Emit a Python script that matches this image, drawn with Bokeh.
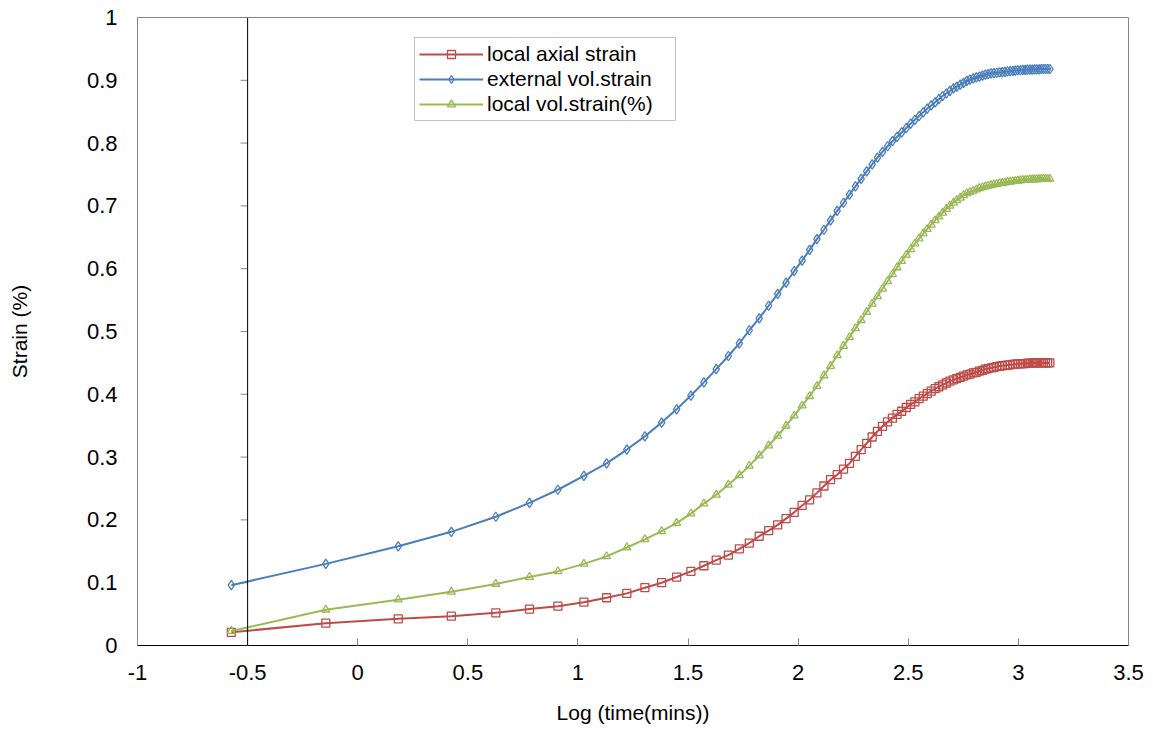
from bokeh.plotting import figure
from bokeh.models import Span, Legend, LegendItem, FixedTicker, ColumnDataSource
from bokeh.embed import file_html
from bokeh.resources import INLINE

# ---- data ----
log_time = [-0.574, -0.145, 0.184, 0.425, 0.627, 0.780, 0.909, 1.027, 1.130, 1.222,
            1.304, 1.380, 1.448, 1.513, 1.572, 1.628, 1.683, 1.733, 1.778, 1.823,
            1.866, 1.907, 1.945, 1.982, 2.018, 2.052, 2.085, 2.117, 2.147, 2.177,
            2.206, 2.233, 2.260, 2.286, 2.311, 2.336, 2.360, 2.383, 2.406, 2.428,
            2.449, 2.470, 2.491, 2.511, 2.530, 2.549, 2.568, 2.586, 2.604, 2.622,
            2.639, 2.656, 2.673, 2.689, 2.705, 2.720, 2.736, 2.751, 2.766, 2.780,
            2.795, 2.809, 2.823, 2.837, 2.850, 2.863, 2.876, 2.889, 2.902, 2.915,
            2.927, 2.939, 2.951, 2.963, 2.975, 2.986, 2.997, 3.009, 3.020, 3.031,
            3.041, 3.052, 3.063, 3.073, 3.083, 3.094, 3.104, 3.114, 3.123, 3.133,
            3.143]

local_axial_strain = [0.021, 0.0355, 0.0425, 0.0467, 0.052, 0.058, 0.0626, 0.069, 0.076, 0.083,
                      0.092, 0.100, 0.109, 0.118, 0.127, 0.136, 0.144, 0.154, 0.163, 0.174,
                      0.183, 0.192, 0.202, 0.212, 0.223, 0.232, 0.243, 0.254, 0.264, 0.272,
                      0.281, 0.290, 0.301, 0.312, 0.322, 0.332, 0.341, 0.349, 0.356, 0.362,
                      0.368, 0.373, 0.379, 0.384, 0.388, 0.393, 0.397, 0.401, 0.405, 0.409,
                      0.412, 0.415, 0.418, 0.421, 0.423, 0.425, 0.427, 0.429, 0.431, 0.432,
                      0.434, 0.435, 0.437, 0.438, 0.440, 0.441, 0.442, 0.443, 0.444, 0.445,
                      0.4455, 0.446, 0.4465, 0.447, 0.4475, 0.448, 0.4485, 0.4485, 0.449, 0.449,
                      0.4495, 0.4495, 0.4495, 0.450, 0.450, 0.450, 0.450, 0.450, 0.450, 0.450,
                      0.450]

external_vol_strain = [0.096, 0.130, 0.158, 0.181, 0.205, 0.227, 0.248, 0.270, 0.290, 0.312,
                       0.333, 0.355, 0.376, 0.398, 0.419, 0.440, 0.461, 0.481, 0.502, 0.521,
                       0.541, 0.560, 0.578, 0.596, 0.613, 0.630, 0.647, 0.662, 0.677, 0.692,
                       0.705, 0.718, 0.731, 0.743, 0.755, 0.766, 0.777, 0.786, 0.795, 0.803,
                       0.810, 0.817, 0.824, 0.831, 0.837, 0.843, 0.849, 0.855, 0.860, 0.865,
                       0.870, 0.875, 0.879, 0.883, 0.887, 0.890, 0.893, 0.896, 0.899, 0.901,
                       0.903, 0.9045, 0.906, 0.9075, 0.909, 0.910, 0.911, 0.9115, 0.912, 0.9125,
                       0.913, 0.9135, 0.914, 0.9145, 0.915, 0.9155, 0.916, 0.916, 0.9165, 0.9165,
                       0.917, 0.917, 0.917, 0.9175, 0.9175, 0.9175, 0.918, 0.918, 0.918, 0.918,
                       0.918]

local_vol_strain = [0.023, 0.057, 0.073, 0.0855, 0.098, 0.109, 0.118, 0.130, 0.142, 0.156,
                    0.169, 0.182, 0.195, 0.210, 0.226, 0.240, 0.256, 0.271, 0.286, 0.3025,
                    0.3185, 0.334, 0.350, 0.366, 0.382, 0.397, 0.413, 0.430, 0.445, 0.462,
                    0.477, 0.491, 0.505, 0.518, 0.531, 0.544, 0.556, 0.568, 0.580, 0.591,
                    0.602, 0.612, 0.622, 0.631, 0.640, 0.648, 0.656, 0.663, 0.670, 0.677,
                    0.683, 0.689, 0.695, 0.700, 0.705, 0.709, 0.713, 0.717, 0.720, 0.722,
                    0.724, 0.726, 0.728, 0.7295, 0.731, 0.732, 0.733, 0.734, 0.735, 0.736,
                    0.7365, 0.737, 0.738, 0.7385, 0.739, 0.7395, 0.740, 0.7405, 0.741, 0.741,
                    0.7415, 0.742, 0.742, 0.742, 0.7425, 0.7425, 0.743, 0.743, 0.743, 0.743,
                    0.743]

series_names = ["local axial strain", "external vol.strain", "local vol.strain(%)"]

x_ticks = [-1, -0.5, 0, 0.5, 1, 1.5, 2, 2.5, 3, 3.5]
x_tick_labels = ["-1", "-0.5", "0", "0.5", "1", "1.5", "2", "2.5", "3", "3.5"]
y_ticks = [0, 0.1, 0.2, 0.3, 0.4, 0.5, 0.6, 0.7, 0.8, 0.9, 1]
y_tick_labels = ["0", "0.1", "0.2", "0.3", "0.4", "0.5", "0.6", "0.7", "0.8", "0.9", "1"]
y_axis_crosses_at = -0.5

# ---- styling ----
FONT = "Liberation Sans"
GRAY = "#868686"
RED = "#BE4B48"
BLUE = "#4A7EBB"
GREEN = "#98B954"

X_MIN, X_MAX = -1, 3.5
Y_MIN, Y_MAX = 0, 1
FRAME_W = 991
TICK_PX = 7

p = figure(width=1145, height=730, x_range=(X_MIN, X_MAX), y_range=(Y_MIN, Y_MAX),
           output_backend="svg", toolbar_location=None,
           min_border_left=137, min_border_right=17, min_border_top=17, min_border_bottom=85)
p.background_fill_color = "white"
p.border_fill_color = "white"
p.outline_line_color = GRAY
p.outline_line_width = 1
p.xgrid.visible = False
p.ygrid.visible = False

# x axis
xa = p.xaxis[0]
xa.ticker = FixedTicker(ticks=x_ticks)
xa.major_label_overrides = dict(zip(x_ticks, x_tick_labels))
xa.axis_line_color = "black"
xa.axis_line_width = 1
xa.major_tick_in = TICK_PX
xa.major_tick_out = 0
xa.major_tick_line_color = GRAY
xa.minor_tick_line_color = None
xa.major_label_standoff = 19
xa.major_label_text_font = FONT
xa.major_label_text_font_size = "22px"
xa.major_label_text_color = "black"
xa.axis_label = "Log (time(mins))"
xa.axis_label_text_font = FONT
xa.axis_label_text_font_size = "21px"
xa.axis_label_text_font_style = "normal"
xa.axis_label_text_color = "black"
xa.axis_label_standoff = 18

# y axis (labels at left edge of frame)
ya = p.yaxis[0]
ya.ticker = FixedTicker(ticks=y_ticks)
ya.major_label_overrides = dict(zip(y_ticks, y_tick_labels))
ya.axis_line_color = None
ya.major_tick_line_color = None
ya.minor_tick_line_color = None
ya.major_tick_in = 0
ya.major_tick_out = 0
ya.major_label_standoff = 20
ya.major_label_text_font = FONT
ya.major_label_text_font_size = "22px"
ya.major_label_text_color = "black"
ya.axis_label = "Strain (%)"
ya.axis_label_text_font = FONT
ya.axis_label_text_font_size = "21px"
ya.axis_label_text_font_style = "normal"
ya.axis_label_text_color = "black"
ya.axis_label_standoff = 53

# vertical axis line crossing at x = -0.5, with its tick marks
p.add_layout(Span(location=y_axis_crosses_at, dimension="height",
                  line_color="black", line_width=1))
tick_len = TICK_PX * (X_MAX - X_MIN) / FRAME_W
p.segment(x0=[y_axis_crosses_at - tick_len] * len(y_ticks), y0=y_ticks,
          x1=[y_axis_crosses_at] * len(y_ticks), y1=y_ticks,
          line_color=GRAY, line_width=1)

# series: (values, colour, marker, size)
specs = [
    (local_axial_strain, RED, "square", 8),
    (external_vol_strain, BLUE, "diamond", 9.5),
    (local_vol_strain, GREEN, "triangle", 8),
]
items = []
for name, (ys, col, mk, sz) in zip(series_names, specs):
    src = ColumnDataSource(data=dict(x=log_time, y=ys))
    rl = p.line("x", "y", source=src, line_color=col, line_width=2)
    rs = p.scatter("x", "y", source=src, marker=mk, size=sz, line_color=col,
                   line_width=1.3, fill_color=None)
    items.append(LegendItem(label=name, renderers=[rl, rs]))

legend = Legend(items=items, location=(277, 524), orientation="vertical",
                padding=4, spacing=1, margin=0,
                glyph_width=64, glyph_height=20, label_height=20,
                label_standoff=4, label_width=184,
                label_text_font=FONT, label_text_font_size="21px",
                label_text_color="black",
                border_line_color=GRAY, border_line_width=1,
                background_fill_color="white", background_fill_alpha=1)
p.add_layout(legend)

open("out.html", "w").write(file_html(p, INLINE))
